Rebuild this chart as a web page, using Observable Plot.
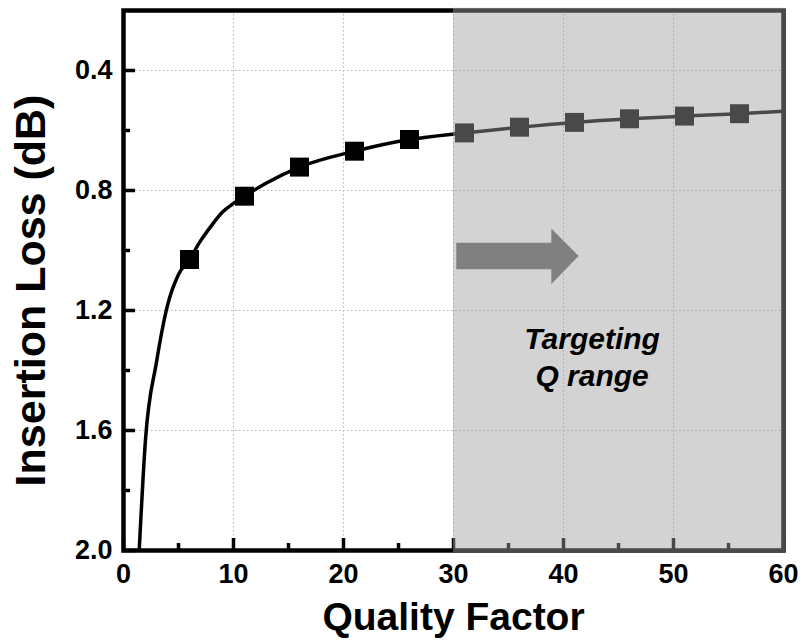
<!DOCTYPE html>
<html>
<head>
<meta charset="utf-8">
<script src="https://cdn.jsdelivr.net/npm/d3@7"></script>
<script src="https://cdn.jsdelivr.net/npm/@observablehq/plot@0.6"></script>
<style>
  html, body { margin: 0; padding: 0; background: #fff; }
  #chart svg { display: block; }
</style>
</head>
<body>
<div id="chart"></div>
<script>
// Measured points (square markers)
const qualityFactor = [6, 11, 16, 21, 26, 31, 36, 41, 46, 51, 56];
const insertionLoss = [1.03, 0.819, 0.722, 0.669, 0.63, 0.608, 0.589, 0.573, 0.561, 0.552, 0.544];

// Fitted curve
const curveQ    = [1.4, 2, 3, 4, 5, 6, 7, 8, 9, 10, 11, 13, 16, 21, 26, 31, 36, 41, 46, 51, 56, 60];
const curveLoss = [2.02, 1.63, 1.372, 1.183, 1.08, 1.03, 0.968, 0.917, 0.872, 0.843, 0.819, 0.775, 0.722, 0.669, 0.63, 0.608, 0.589, 0.573, 0.561, 0.552, 0.544, 0.536];

// Axis ticks
const xMajor = [0, 10, 20, 30, 40, 50, 60];
const xMinor = [5, 15, 25, 35, 45, 55];
const yMajor = [0.4, 0.8, 1.2, 1.6, 2.0];
const yMinor = [0.6, 1.0, 1.4, 1.8];
const xGrid = [10, 20, 30, 40, 50];
const yGrid = [0.4, 0.8, 1.2, 1.6];
const xTitle = ["Quality Factor"];
const yTitle = ["Insertion Loss (dB)"];

// Targeting Q range shading and annotation
const targetRange = [30, 60];
const arrowQ  = [30.3, 38.94, 38.94, 41.42];
const arrowLo = [0.976, 0.976, 0.928, 1.02];
const arrowHi = [1.064, 1.064, 1.113, 1.02];
const annotationText = ["Targeting\nQ range"];
const annotationQ = [42.6];
const annotationLoss = [1.35];

const points = qualityFactor.map((q, i) => ({q, il: insertionLoss[i]}));
const curve = curveQ.map((q, i) => ({q, il: curveLoss[i]}));
const arrow = arrowQ.map((q, i) => ({q, lo: arrowLo[i], hi: arrowHi[i]}));
const annotation = annotationText.map((t, i) => ({t, q: annotationQ[i], il: annotationLoss[i]}));

const FONT = "'Liberation Sans', Arial, Helvetica, sans-serif";
const frameH = 641 - 10 - 91;
const frameW = 801 - 123 - 18;

const chart = Plot.plot({
  width: 801,
  height: 641,
  marginLeft: 123,
  marginRight: 18,
  marginTop: 10,
  marginBottom: 91,
  style: {fontFamily: FONT, background: "#fff", overflow: "visible"},
  x: {domain: [0, 60], axis: null},
  y: {domain: [0.2, 2.0], reverse: true, axis: null},
  marks: [
    Plot.ruleX(xGrid, {x: d => d, stroke: "#b0b0b0", strokeWidth: 1, strokeDasharray: "1.5,2.5"}),
    Plot.ruleY(yGrid, {y: d => d, stroke: "#b0b0b0", strokeWidth: 1, strokeDasharray: "1.5,2.5"}),
    Plot.line(curve, {x: "q", y: "il", stroke: "#000", strokeWidth: 3.5, curve: "monotone-x", clip: true}),
    Plot.dot(points, {x: "q", y: "il", symbol: "square", r: 10.7, fill: "#000", stroke: "none"}),
    // inward ticks
    Plot.tickX(xMajor, {x: d => d, insetTop: frameH - 12, stroke: "#000", strokeWidth: 3.5}),
    Plot.tickX(xMinor, {x: d => d, insetTop: frameH - 7, stroke: "#000", strokeWidth: 3.5}),
    Plot.tickY(yMajor, {y: d => d, insetRight: frameW - 12, stroke: "#000", strokeWidth: 3.5}),
    Plot.tickY(yMinor, {y: d => d, insetRight: frameW - 7, stroke: "#000", strokeWidth: 3.5}),
    Plot.frame({stroke: "#000", strokeWidth: 4.5}),
    // shaded targeting region (drawn over curve & frame)
    Plot.rect([targetRange], {x1: d => d[0], x2: d => d[1], fill: "rgb(160,160,160)", fillOpacity: 0.46,
      insetTop: -2.25, insetRight: -2.25, insetBottom: -2.25}),
    Plot.area(arrow, {x1: "q", y1: "lo", y2: "hi", fill: "#808080", curve: "linear"}),
    Plot.text(annotation, {x: "q", y: "il", text: "t", fontSize: 30, fontWeight: "bold", fontStyle: "italic",
      lineHeight: 1.23, fill: "#000", textAnchor: "middle"}),
    // tick labels
    Plot.text(xMajor, {x: d => d, frameAnchor: "bottom", dy: 24.3, lineAnchor: "middle", textAnchor: "middle",
      text: d => String(d), fontSize: 27, fontWeight: "bold", fill: "#000"}),
    Plot.text(yMajor, {y: d => d, frameAnchor: "left", dx: -11, lineAnchor: "middle", textAnchor: "end",
      text: d => d3.format(".1f")(d), fontSize: 27, fontWeight: "bold", fill: "#000"}),
    // axis titles
    Plot.text(xTitle, {frameAnchor: "bottom", dy: 67.5, lineAnchor: "middle", textAnchor: "middle",
      text: d => d, fontSize: 39, fontWeight: "bold", fill: "#000"}),
    Plot.text(yTitle, {frameAnchor: "left", dx: -92, dy: 10, rotate: -90, lineAnchor: "middle", textAnchor: "middle",
      text: d => d, fontSize: 43, fontWeight: "bold", fill: "#000"})
  ]
});
document.getElementById("chart").appendChild(chart);
</script>
</body>
</html>
